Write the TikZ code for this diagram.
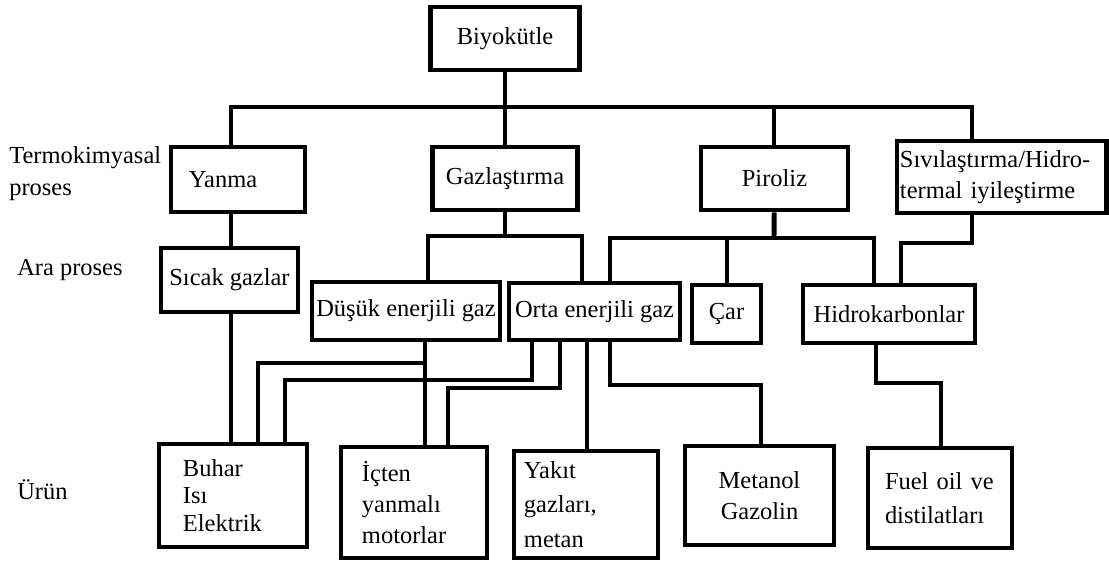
\documentclass[tikz,border=0pt]{standalone}
\usepackage{fontspec}
\setmainfont{Liberation Serif}
\usepackage{tikz}

\begin{document}
\begin{tikzpicture}[font=\fontsize{17.4pt}{22pt}\selectfont,x=0.025cm,y=-0.025cm,
    kutu/.style={draw,line width=3.5pt,inner sep=0pt},
    hat/.style={line width=3.5pt},
    etiket/.style={inner sep=0pt,anchor=west,align=left}]
    \useasboundingbox (0,0) rectangle (1109,560);

    % Seviye etiketleri.
    \node[etiket,font=\fontsize{17.4pt}{22.7pt}\selectfont] (etiketTermo) at (9,174) {Termokimyasal\\proses};
    \node[etiket] (etiketAra) at (17,270) {Ara proses};
    \node[etiket] (etiketUrun) at (17,490) {Ürün};

    % Kutular.
    \node[kutu,minimum width=3.725cm,minimum height=1.575cm] (bio) at (505,38.5) {Biyokütle};
    \node[kutu,text width=2.45cm,inner xsep=0.45cm,align=left,minimum height=1.625cm] (yanma) at (238,179.5) {Yanma};
    \node[kutu,minimum width=3.625cm,minimum height=1.575cm] (gaz) at (505,178.5) {Gazlaştırma};
    \node[kutu,minimum width=3.675cm,minimum height=1.575cm] (piro) at (774.5,178.5) {Piroliz};
    \node[kutu,text width=5.075cm,inner xsep=0.075cm,align=left,minimum height=1.8cm] (sivi) at (1001.5,177)
        {Sıvılaştırma/Hidro-\\termal iyileştirme};

    \node[kutu,minimum width=3.425cm,minimum height=1.6cm] (sicak) at (229.5,280) {Sıcak gazlar};
    \node[kutu,minimum width=4.7cm,minimum height=1.45cm] (dusuk) at (406,311) {Düşük enerjili gaz};
    \node[kutu,minimum width=4.275cm,minimum height=1.425cm] (orta) at (594.5,311.5) {Orta enerjili gaz};
    \node[kutu,minimum width=1.725cm,minimum height=1.45cm] (car) at (726.5,314) {Çar};
    \node[kutu,minimum width=4.3cm,minimum height=1.45cm] (hidro) at (889,314) {Hidrokarbonlar};

    \node[kutu,text width=2.5cm,inner xsep=0.6cm,align=left,minimum height=2.575cm,
        font=\fontsize{17.4pt}{19.5pt}\selectfont] (buhar) at (233,495.5) {Buhar\\Isı\\Elektrik};
    \node[kutu,text width=2.6cm,inner xsep=0.525cm,align=left,minimum height=2.775cm] (icten) at (414,502.5)
        {İçten\\yanmalı\\motorlar};
    \node[kutu,text width=3.1cm,inner xsep=0.25cm,align=left,minimum height=2.675cm,
        font=\fontsize{17.4pt}{24.5pt}\selectfont] (yakit) at (586,504.5) {Yakıt\\gazları,\\metan};
    \node[kutu,minimum width=3.725cm,minimum height=2.475cm,align=center] (metanol) at (759.5,495.5)
        {Metanol\\Gazolin};
    \node[kutu,text width=2.75cm,inner xsep=0.425cm,align=left,minimum height=2.5cm,
        font=\fontsize{17.4pt}{24.5pt}\selectfont] (fuel) at (940,498) {Fuel oil ve\\distilatları};

    % Biyokütle dağıtımı.
    \coordinate (uSol) at (231,107);
    \coordinate (uPiro) at (774,107);
    \coordinate (uSag) at (972,107);
    \draw[hat] (bio) -- (gaz);
    \draw[hat] (uSol |- yanma.north) -- (uSol) -- (uSag) -- (uSag |- sivi.north);
    \draw[hat] (uPiro) -- (uPiro |- piro.north);

    % Yanma hattı.
    \draw[hat] (uSol |- yanma.south) -- (uSol |- sicak.north);
    \draw[hat] (uSol |- sicak.south) -- (uSol |- buhar.north);

    % Gazlaştırma çıkışları.
    \coordinate (gOrta) at (505,236);
    \coordinate (gSol) at (428,236);
    \coordinate (gSag) at (582,236);
    \draw[hat] (gaz) -- (gOrta);
    \draw[hat] (gSol |- dusuk.north) -- (gSol) -- (gSag) -- (gSag |- orta.north);

    % Piroliz çıkışları.
    \coordinate (pOrta) at (774,238);
    \coordinate (pSol) at (610,238);
    \coordinate (pCar) at (727,238);
    \coordinate (pSag) at (874,238);
    \draw[hat] (piro) -- (pOrta);
    \draw[hat] (pSol |- orta.north) -- (pSol) -- (pSag) -- (pSag |- hidro.north);
    \draw[hat] (pCar) -- (pCar |- car.north);

    % Sıvılaştırma çıkışı.
    \coordinate (sUst) at (972,243);
    \coordinate (sAlt) at (901,243);
    \draw[hat] (uSag |- sivi.south) -- (sUst) -- (sAlt) -- (sAlt |- hidro.north);

    % Düşük enerjili gaz ürünleri.
    \coordinate (dKose) at (425,363);
    \coordinate (dSol) at (258,363);
    \draw[hat] (dKose |- dusuk.south) -- (dKose |- icten.north);
    \draw[hat] (dKose) -- (dSol) -- (dSol |- buhar.north);

    % Orta enerjili gaz ürünleri.
    \coordinate (o1) at (532,380);
    \coordinate (o1b) at (285,380);
    \coordinate (o2) at (560,388);
    \coordinate (o2b) at (448,388);
    \coordinate (o3) at (587,388);
    \coordinate (o4) at (610,385);
    \coordinate (o4b) at (761,385);
    \draw[hat] (o1 |- orta.south) -- (o1) -- (o1b) -- (o1b |- buhar.north);
    \draw[hat] (o2 |- orta.south) -- (o2) -- (o2b) -- (o2b |- icten.north);
    \draw[hat] (o3 |- orta.south) -- (o3 |- yakit.north);
    \draw[hat] (o4 |- orta.south) -- (o4) -- (o4b) -- (o4b |- metanol.north);

    % Hidrokarbon ürünü.
    \coordinate (h1) at (876,383);
    \coordinate (h1b) at (941,383);
    \draw[hat] (h1 |- hidro.south) -- (h1) -- (h1b) -- (h1b |- fuel.north);
\end{tikzpicture}
\end{document}
